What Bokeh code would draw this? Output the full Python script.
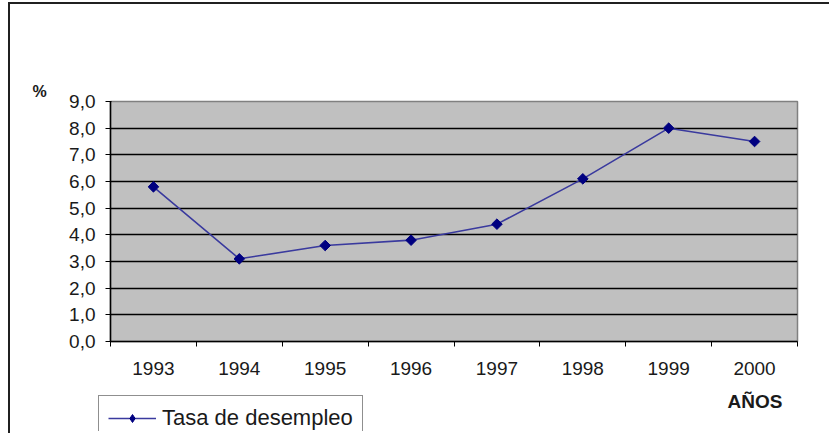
from bokeh.plotting import figure
from bokeh.models import FixedTicker, Legend, LegendItem, Label, Spacer, Range1d
from bokeh.layouts import column, row
from bokeh.embed import file_html
from bokeh.resources import INLINE
import math

years = [1993, 1994, 1995, 1996, 1997, 1998, 1999, 2000]
tasa = [5.8, 3.1, 3.6, 3.8, 4.4, 6.1, 8.0, 7.5]
y_ticks = [0, 1, 2, 3, 4, 5, 6, 7, 8, 9]
y_tick_labels = ["0,0", "1,0", "2,0", "3,0", "4,0", "5,0", "6,0", "7,0", "8,0", "9,0"]
series_name = "Tasa de desempleo"
y_title = "%"
x_title = "AÑOS"

FONT = "Liberation Sans"
LINE_COLOR = "#3A3A9E"
MARK_COLOR = "#000080"
TXT = "#1a1a1a"

# ---------------- main chart ----------------
p = figure(width=819, height=382, output_backend="svg", toolbar_location=None,
           x_range=(years[0] - 0.5, years[-1] + 0.5), y_range=(y_ticks[0], y_ticks[-1]),
           min_border_left=100, min_border_right=32, min_border_top=97, min_border_bottom=45,
           styles={"border-top": "2px solid #202020"})
p.background_fill_color = "#C0C0C0"
p.border_fill_color = "white"
p.outline_line_color = "#808080"
p.outline_line_width = 1.5

p.title.text = y_title
p.title.align = "left"
p.title.offset = -78
p.title.vertical_align = "bottom"
p.title.standoff = 4
p.title.text_font = FONT
p.title.text_font_size = "16px"
p.title.text_font_style = "bold"
p.title.text_color = TXT

p.xgrid.grid_line_color = None
p.ygrid.grid_line_color = "#000000"
p.ygrid.grid_line_width = 1.5
p.ygrid.ticker = FixedTicker(ticks=y_ticks)

xa = p.xaxis[0]
xa.ticker = FixedTicker(ticks=years, minor_ticks=[y - 0.5 for y in years] + [years[-1] + 0.5])
xa.major_tick_line_color = None
xa.minor_tick_line_color = "#000000"
xa.minor_tick_out = 5
xa.minor_tick_in = 0
xa.major_tick_out = 0
xa.major_tick_in = 0
xa.axis_line_color = "#000000"
xa.axis_line_width = 1.5
xa.major_label_text_font = FONT
xa.major_label_text_font_size = "19px"
xa.major_label_text_color = TXT
xa.major_label_standoff = 15

ya = p.yaxis[0]
ya.ticker = FixedTicker(ticks=y_ticks)
ya.major_label_overrides = {t: l for t, l in zip(y_ticks, y_tick_labels)}
ya.minor_tick_line_color = None
ya.major_tick_out = 5
ya.major_tick_in = 1
ya.major_tick_line_color = "#000000"
ya.axis_line_color = "#000000"
ya.axis_line_width = 1.5
ya.major_label_text_font = FONT
ya.major_label_text_font_size = "19px"
ya.major_label_text_color = TXT
ya.major_label_standoff = 10

p.line(years, tasa, line_color=LINE_COLOR, line_width=1.6)
p.scatter(years, tasa, marker="square", angle=math.pi / 4, size=7.5,
          fill_color=MARK_COLOR, line_color=MARK_COLOR)

# ---------------- bottom strip: legend + axis title ----------------
p2 = figure(width=819, height=47, output_backend="svg", toolbar_location=None,
            x_range=(years[0] - 0.5, years[-1] + 0.5), y_range=Range1d(100, 101),
            x_axis_type=None, y_axis_type=None,
            min_border_left=0, min_border_right=0, min_border_top=0, min_border_bottom=0)
p2.grid.visible = False
p2.outline_line_color = None
p2.background_fill_color = "white"
p2.border_fill_color = "white"

lr2 = p2.line(years, tasa, line_color=LINE_COLOR, line_width=1.6)
sr2 = p2.scatter(years, tasa, marker="diamond", size=11,
                 fill_color=MARK_COLOR, line_color=MARK_COLOR)

legend = Legend(items=[LegendItem(label=series_name, renderers=[lr2, sr2])],
                location=(88, -10), orientation="vertical",
                border_line_color="#202020", border_line_width=1.5,
                background_fill_color="white", background_fill_alpha=1,
                label_text_font=FONT, label_text_font_size="22px", label_text_color=TXT,
                glyph_width=48, glyph_height=20, label_standoff=6, label_height=20,
                padding=9, margin=0, spacing=0)
p2.add_layout(legend, "center")

p2.add_layout(Label(x=772, y=30, x_units="screen", y_units="screen", text=x_title,
                    text_font=FONT, text_font_size="19px", text_font_style="bold",
                    text_color=TXT, text_align="right", text_baseline="alphabetic"))

bar = Spacer(width=2, height=431, styles={"background-color": "#202020"})
inner = column(row(p), row(p2))
layout = column(Spacer(height=2, width=829),
                row(Spacer(width=8, height=431), bar, inner))
open("out.html", "w").write(file_html(layout, INLINE))
